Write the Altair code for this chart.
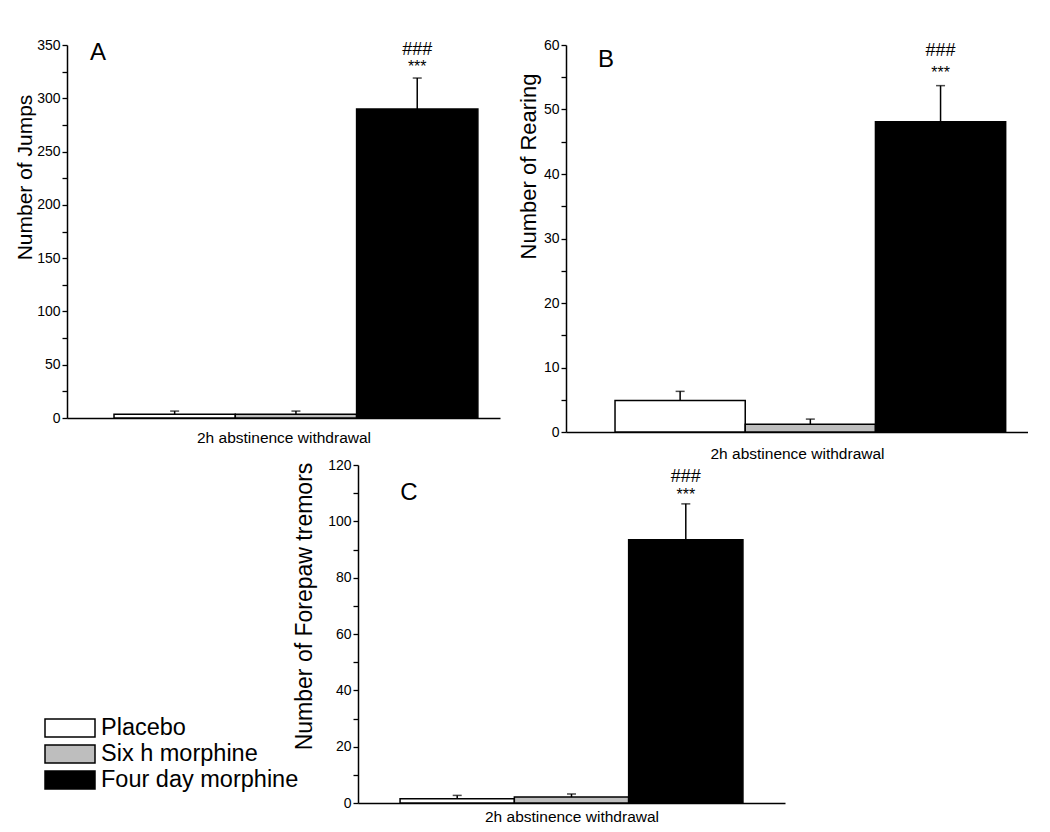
import altair as alt
import pandas as pd

groups = ["Placebo", "Six h morphine", "Four day morphine"]
fills = ["#ffffff", "#bebebe", "#000000"]

jumps_mean = [3.5, 3.5, 290.0]
jumps_sem = [3.0, 3.0, 29.0]
rearing_mean = [4.9, 1.2, 48.1]
rearing_sem = [1.4, 0.8, 5.6]
tremor_mean = [1.5, 2.1, 93.5]
tremor_sem = [1.2, 1.1, 12.7]
hash_marks = ["", "", "###"]
star_marks = ["", "", "***"]
x_title = "2h  abstinence withdrawal"

FONT = "Liberation Sans"

legend_shared = alt.Legend(orient="none", legendX=-23, legendY=670, title=None,
                           symbolType="M-1,-0.36H1V0.36H-1Z", symbolSize=2500,
                           symbolStrokeColor="black", symbolStrokeWidth=1.5,
                           labelFontSize=23.5, labelFont=FONT, labelColor="black",
                           labelLimit=400, labelOffset=5, clipHeight=26,
                           rowPadding=0, padding=0)


def panel(mean, sem, ymax, ystep, lstep, ytitle, letter, width, height,
          po, al, title_fs, title_x, title_y, xpad, letter_xy,
          hash_dy, star_dy):
    df = pd.DataFrame({
        "group": groups,
        "mean": mean,
        "top": [m + s for m, s in zip(mean, sem)],
        "hash": hash_marks,
        "star": star_marks,
    })
    xscale = alt.Scale(domain=groups, paddingInner=0, paddingOuter=po, align=al)
    xaxis = alt.Axis(labels=False, ticks=False, title=x_title, domainColor="black",
                     domainWidth=1.5, titleFontSize=15.5, titleFontWeight="normal",
                     titleFont=FONT, titleColor="black", titlePadding=xpad)
    x = alt.X("group:N", sort=groups, scale=xscale, axis=xaxis)
    yscale = alt.Scale(domain=[0, ymax], nice=False, zero=True)
    yaxis = alt.Axis(values=list(range(0, ymax + 1, ystep)),
                     labelExpr=f"datum.value % {lstep} == 0 ? datum.label : ''",
                     tickSize=5, tickColor="black", tickWidth=1.3,
                     domainColor="black", domainWidth=1.5,
                     labelFontSize=14, labelFont=FONT, labelColor="black", labelPadding=2,
                     title=ytitle, titleFontSize=title_fs, titleFontWeight="normal",
                     titleFont=FONT, titleColor="black", titleX=title_x, titleY=title_y,
                     titleAngle=-90, titleAlign="center", titleBaseline="alphabetic",
                     grid=False)
    y = alt.Y("mean:Q", scale=yscale, axis=yaxis)
    fill = alt.Fill("group:N", scale=alt.Scale(domain=groups, range=fills),
                    legend=legend_shared)
    base = alt.Chart(df)
    bars = base.mark_bar(stroke="black", strokeWidth=1.5).encode(x=x, y=y, fill=fill)
    err = base.mark_rule(color="black", strokeWidth=1.5).encode(
        x=x, y=alt.Y("mean:Q", scale=yscale, axis=yaxis), y2="top:Q")
    cap = base.mark_tick(color="black", thickness=1.5, size=9, orient="horizontal").encode(
        x=x, y=alt.Y("top:Q", scale=yscale, axis=yaxis))
    hashes = base.mark_text(fontSize=18, font=FONT, baseline="alphabetic", dy=hash_dy,
                            color="black").encode(
        x=x, y=alt.Y("top:Q", scale=yscale, axis=yaxis), text="hash:N")
    stars = base.mark_text(fontSize=16, font=FONT, baseline="alphabetic", dy=star_dy,
                           color="black").encode(
        x=x, y=alt.Y("top:Q", scale=yscale, axis=yaxis), text="star:N")
    lab = alt.Chart(pd.DataFrame({"t": [letter]})).mark_text(
        fontSize=24, font=FONT, align="center", baseline="middle", color="black").encode(
        x=alt.value(letter_xy[0]), y=alt.value(letter_xy[1]), text="t:N")
    return alt.layer(bars, err, cap, hashes, stars, lab).properties(width=width, height=height)


pA = panel(jumps_mean, jumps_sem, 350, 25, 50, "Number of Jumps", "A", 433, 373,
           0.285, 0.68, 21, -36, 132, 12, (31, 8), -23, -6)
pB = panel(rearing_mean, rearing_sem, 60, 5, 10, "Number of Rearing", "B", 462, 387,
           0.274, 0.687, 22, -31, 121, 14, (40, 15), -30, -8)
pC = panel(tremor_mean, tremor_sem, 120, 10, 20, "Number of Forepaw tremors", "C", 427, 338,
           0.368, 0.5, 23, -47, 141, 6, (51, 28), -22, -4)

spacer = alt.Chart(pd.DataFrame({"a": [0]})).mark_point(opacity=0).encode(
    x=alt.value(0), y=alt.value(0)).properties(width=225, height=10)

chart = alt.vconcat(
    alt.hconcat(pA, pB, spacing=16),
    alt.hconcat(spacer, pC, spacing=0),
    spacing=-4,
).properties(
    padding={"left": 5, "top": 30, "right": 0, "bottom": 0},
    background="white",
).configure(font=FONT).configure_view(stroke=None)

chart.save("out.html", embed_options={"renderer": "svg", "actions": False})
